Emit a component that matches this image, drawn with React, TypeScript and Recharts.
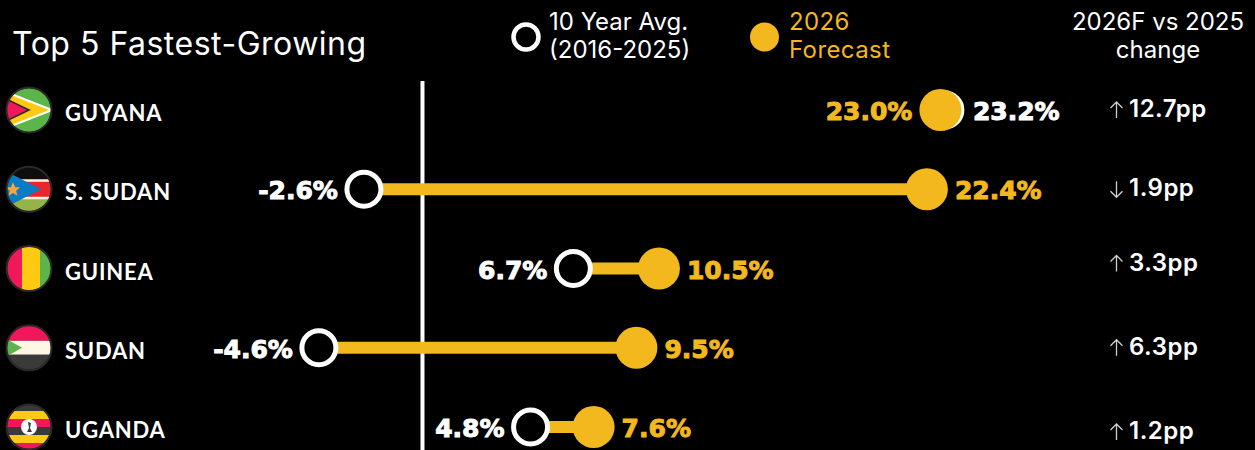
import React from "react";
import {
  ScatterChart,
  Scatter,
  XAxis,
  YAxis,
  ReferenceLine,
} from "recharts";

const countries = ["GUYANA", "S. SUDAN", "GUINEA", "SUDAN", "UGANDA"];
const avgValues = [23.2, -2.6, 6.7, -4.6, 4.8];
const forecastValues = [23.0, 22.4, 10.5, 9.5, 7.6];
const changeDirections = ["up", "down", "up", "up", "up"];
const changeLabels = ["12.7pp", "1.9pp", "3.3pp", "6.3pp", "1.2pp"];
const rowTicks = [0, 1, 2, 3, 4];

const YELLOW = "#f2b81d";
const WIDTH = 1255;
const HEIGHT = 450;
const LABEL_FONT = "'DejaVu Sans', sans-serif";
const UI_FONT = "Inter, sans-serif";

// the change column drifts a little from the rows in the original
const changeOffsets = [-1, -1, -6, -1, 4];

const rows = countries.map((name, i) => ({
  name,
  y: i,
  avg: avgValues[i],
  forecast: forecastValues[i],
}));

const avgPoints = rows.map((r) => ({ x: r.avg, y: r.y, other: r.forecast }));
const forecastPoints = rows.map((r) => ({ x: r.forecast, y: r.y, other: r.avg }));

function fmt(v: number) {
  return `${v.toFixed(1)}%`;
}

function ValueLabel({ cx, cy, value, other, color, gap }: any) {
  const onLeft = value < other;
  return (
    <text
      x={cx + (onLeft ? -gap : gap)}
      y={cy + 10}
      textAnchor={onLeft ? "end" : "start"}
      fill={color}
      fontFamily={LABEL_FONT}
      fontWeight={700}
      fontSize={25}
      stroke={color}
      strokeWidth={1}
    >
      {fmt(value)}
    </text>
  );
}

function AvgDot(props: any) {
  const { cx, cy, payload } = props;
  return (
    <g>
      <circle cx={cx} cy={cy} r={17} fill="#000" stroke="#fff" strokeWidth={5} />
      <ValueLabel cx={cx} cy={cy} value={payload.x} other={payload.other} color="#fff" gap={payload.x < payload.other ? 26 : 28} />
    </g>
  );
}

function ForecastDot(props: any) {
  const { cx, cy, payload } = props;
  return (
    <g>
      <circle cx={cx} cy={cy} r={21} fill={YELLOW} />
      <ValueLabel cx={cx} cy={cy} value={payload.x} other={payload.other} color={YELLOW} gap={28} />
    </g>
  );
}

function Flag({ index }: { index: number }) {
  const r = 22;
  const id = `flag-${index}`;
  let body = null;
  if (index === 0) {
    body = (
      <>
        <rect x={-r} y={-r} width={44} height={44} fill="#5cb54a" />
        <path d="M-23,-18 L23,0 L-23,18 Z" fill="#ffc914" stroke="#fff" strokeWidth={2} />
        <path d="M-23,-11 L0,0 L-23,11 Z" fill="#f0185a" stroke="#2b2b2b" strokeWidth={1.6} />
      </>
    );
  } else if (index === 1) {
    body = (
      <>
        <rect x={-r} y={-r} width={44} height={13} fill="#0e0e0e" />
        <rect x={-r} y={-9} width={44} height={18} fill="#e8262c" />
        <rect x={-r} y={9} width={44} height={13} fill="#95b347" />
        <rect x={-r} y={-10} width={44} height={2.5} fill="#fff3e0" />
        <rect x={-r} y={7.5} width={44} height={2.5} fill="#fff3e0" />
        <path d="M-23,-18 L12,0 L-23,18 Z" fill="#0a7cc4" />
        <path
          d="M-16,-7 L-13.8,-2 L-9,-2 L-12.8,1.4 L-11.6,6.5 L-16,3.7 L-20.4,6.5 L-19.2,1.4 L-23,-2 L-18.2,-2 Z"
          fill="#f7a83c"
        />
      </>
    );
  } else if (index === 2) {
    body = (
      <>
        <rect x={-r} y={-r} width={15} height={44} fill="#f0185a" />
        <rect x={-7} y={-r} width={25} height={44} fill="#ffc914" />
        <rect x={11} y={-r} width={12} height={44} fill="#5cb54a" />
      </>
    );
  } else if (index === 3) {
    body = (
      <>
        <rect x={-r} y={-r} width={44} height={15} fill="#f0185a" />
        <rect x={-r} y={-7} width={44} height={14} fill="#fff7e6" />
        <rect x={-r} y={7} width={44} height={15} fill="#3a3a3a" />
        <path d="M-23,-9 L-7,0 L-23,9 Z" fill="#5cb54a" />
      </>
    );
  } else {
    body = (
      <>
        <rect x={-r} y={-r} width={44} height={6} fill="#3a3a3a" />
        <rect x={-r} y={-16} width={44} height={8} fill="#ffc914" />
        <rect x={-r} y={-8} width={44} height={8} fill="#f0185a" />
        <rect x={-r} y={0} width={44} height={8} fill="#3a3a3a" />
        <rect x={-r} y={8} width={44} height={8} fill="#ffc914" />
        <rect x={-r} y={16} width={44} height={6} fill="#f0185a" />
        <circle r={8} fill="#fff" />
        <path d="M-1,-5 L2,-4 L1,1 L3,5 L-2,5 L0,1 Z" fill="#3a3a3a" />
      </>
    );
  }
  return (
    <g>
      <clipPath id={id}>
        <circle r={r} />
      </clipPath>
      <g clipPath={`url(#${id})`}>{body}</g>
      <circle r={22.5} fill="none" stroke="#2a2a2a" strokeWidth={2} />
    </g>
  );
}

function CountryTick({ y, payload }: any) {
  const i = payload.value;
  return (
    <g transform={`translate(0,${y})`}>
      <g transform="translate(29,0)">
        <Flag index={i} />
      </g>
      <text
        x={65}
        y={11}
        fill="#fff"
        fontFamily="Lato, sans-serif"
        fontWeight={700}
        fontSize={22}
        letterSpacing={0.8}
      >
        {countries[i]}
      </text>
    </g>
  );
}

function ChangeTick({ y, payload }: any) {
  const i = payload.value;
  const rowY = y + changeOffsets[i];
  const up = changeDirections[i] === "up";
  return (
    <g>
      <path
        d={
          up
            ? `M1116.5,${rowY + 9} V${rowY - 7} M1110.5,${rowY - 1} L1116.5,${rowY - 7} L1122.5,${rowY - 1}`
            : `M1116.5,${rowY - 7} V${rowY + 9} M1110.5,${rowY + 3} L1116.5,${rowY + 9} L1122.5,${rowY + 3}`
        }
        fill="none"
        stroke="#cfcfcf"
        strokeWidth={1.3}
      />
      <text
        x={1129}
        y={rowY + 8}
        fill="#fff"
        fontFamily={UI_FONT}
        fontWeight={600}
        fontSize={24}
        letterSpacing={0.5}
      >
        {changeLabels[i]}
      </text>
    </g>
  );
}

const headerText: React.CSSProperties = {
  position: "absolute",
  fontFamily: UI_FONT,
  fontSize: 24,
  lineHeight: "28px",
  whiteSpace: "nowrap",
};

export default function App() {
  return (
    <div
      style={{
        position: "fixed",
        left: 0,
        top: 0,
        width: WIDTH,
        height: HEIGHT,
        background: "#000",
        overflow: "hidden",
      }}
    >
      <ScatterChart
        width={WIDTH}
        height={HEIGHT}
        margin={{ top: 81, right: 0, bottom: 0, left: 0 }}
      >
        <XAxis type="number" dataKey="x" hide domain={[-9.88, 29.2]} allowDataOverflow />
        <YAxis
          yAxisId="left"
          type="number"
          dataKey="y"
          reversed
          domain={[-0.366, 4.29]}
          ticks={rowTicks}
          interval={0}
          width={200}
          axisLine={false}
          tickLine={false}
          tick={<CountryTick />}
        />
        <YAxis
          yAxisId="right"
          orientation="right"
          type="number"
          dataKey="y"
          reversed
          domain={[-0.366, 4.29]}
          ticks={rowTicks}
          interval={0}
          width={175}
          axisLine={false}
          tickLine={false}
          tick={<ChangeTick />}
        />
        <ReferenceLine yAxisId="left" x={0} stroke="#fff" strokeWidth={4} />
        {rows.map((r) => (
          <Scatter
            key={r.name}
            yAxisId="left"
            data={[
              { x: r.avg, y: r.y },
              { x: r.forecast, y: r.y },
            ]}
            line={{ stroke: YELLOW, strokeWidth: 12 }}
            shape={() => null}
            isAnimationActive={false}
          />
        ))}
        <Scatter yAxisId="left" data={avgPoints} shape={<AvgDot />} isAnimationActive={false} />
        <Scatter yAxisId="left" data={forecastPoints} shape={<ForecastDot />} isAnimationActive={false} />
        {/* keeps the right axis registered so its change labels draw */}
        <Scatter yAxisId="right" data={avgPoints} shape={() => null} isAnimationActive={false} />
      </ScatterChart>

      <div style={{ ...headerText, left: 12, top: 24, fontSize: 32, lineHeight: "40px", letterSpacing: 0.5, color: "#fff" }}>
        Top 5 Fastest-Growing
      </div>
      <svg width={WIDTH} height={90} style={{ position: "absolute", left: 0, top: 0 }}>
        <circle cx={526} cy={37} r={12.5} fill="#000" stroke="#fff" strokeWidth={4.5} />
        <circle cx={764.5} cy={37} r={14.5} fill={YELLOW} />
      </svg>
      <div style={{ ...headerText, left: 549, top: 8, color: "#fff" }}>
        10 Year Avg.
        <br />
        (2016-2025)
      </div>
      <div style={{ ...headerText, left: 789, top: 8, letterSpacing: 0.4, color: YELLOW }}>
        2026
        <br />
        Forecast
      </div>
      <div style={{ ...headerText, left: 1058, width: 200, top: 8, color: "#fff", textAlign: "center" }}>
        2026F vs 2025
        <br />
        change
      </div>
    </div>
  );
}
